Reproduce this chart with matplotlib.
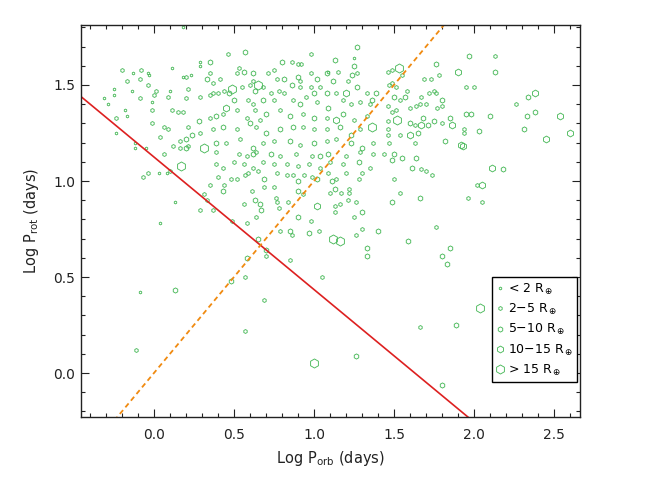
import numpy as np
import matplotlib
matplotlib.use('Agg')
import matplotlib.pyplot as plt
from matplotlib.lines import Line2D
from matplotlib.ticker import MultipleLocator

# (log P_orb, log P_rot) per planet-radius bin
pts_lt2 = [(0.18, 1.80), (-0.13, 1.56), (-0.04, 1.56), (-0.03, 1.55), (0.11, 1.59),
           (0.29, 1.62), (0.29, 1.60), (0.18, 1.54), (0.23, 1.55), (1.09, 1.57),
           (1.25, 1.64), (-0.25, 1.48), (-0.25, 1.45), (-0.14, 1.47), (-0.31, 1.43),
           (-0.29, 1.40), (-0.01, 1.41), (0.10, 1.47), (-0.18, 1.37), (-0.17, 1.34),
           (-0.24, 1.25), (-0.12, 1.20), (-0.12, 1.17), (-0.05, 1.17), (0.03, 1.04),
           (0.08, 1.04), (0.13, 0.89), (0.04, 0.78), (-0.09, 0.42)]

pts_2_5 = [(0.46, 1.66), (0.98, 1.66), (-0.20, 1.58), (-0.08, 1.58), (-0.17, 1.52),
           (-0.09, 1.53), (0.20, 1.54), (0.35, 1.56), (0.37, 1.51), (0.41, 1.53),
           (0.53, 1.59), (0.52, 1.56), (0.62, 1.52), (0.86, 1.62), (0.90, 1.61),
           (0.92, 1.61), (0.75, 1.58), (0.71, 1.56), (0.77, 1.53), (0.91, 1.52),
           (0.98, 1.56), (1.15, 1.57), (1.27, 1.56), (1.21, 1.52), (0.01, 1.47),
           (0.00, 1.45), (-0.04, 1.50), (-0.09, 1.43), (0.09, 1.44), (0.21, 1.48),
           (0.20, 1.43), (0.29, 1.44), (0.35, 1.45), (0.37, 1.46), (0.40, 1.46),
           (0.44, 1.47), (0.55, 1.49), (0.60, 1.50), (0.68, 1.49), (0.73, 1.46),
           (0.78, 1.47), (0.81, 1.46), (0.91, 1.49), (0.98, 1.49), (1.04, 1.49),
           (1.14, 1.46), (1.33, 1.46), (0.59, 1.42), (0.62, 1.40), (0.75, 1.42),
           (0.87, 1.42), (0.95, 1.44), (1.02, 1.41), (1.18, 1.42), (1.23, 1.40),
           (1.29, 1.41), (1.35, 1.40), (-0.24, 1.33), (-0.01, 1.37), (0.11, 1.37),
           (0.15, 1.36), (0.18, 1.36), (0.35, 1.33), (0.43, 1.35), (0.52, 1.37),
           (0.58, 1.33), (0.63, 1.37), (0.66, 1.32), (0.79, 1.37), (0.93, 1.35),
           (1.08, 1.33), (1.25, 1.32), (1.33, 1.34), (-0.01, 1.30), (0.06, 1.28),
           (0.09, 1.27), (0.21, 1.28), (0.29, 1.25), (0.37, 1.27), (0.52, 1.27),
           (0.64, 1.28), (0.93, 1.28), (1.00, 1.27), (1.08, 1.27), (1.29, 1.27),
           (0.04, 1.23), (0.16, 1.21), (0.45, 1.20), (0.54, 1.22), (0.68, 1.20),
           (0.75, 1.21), (0.91, 1.19), (1.08, 1.21), (1.14, 1.22), (1.37, 1.20),
           (0.06, 1.14), (0.12, 1.18), (0.16, 1.17), (0.21, 1.18), (0.39, 1.15),
           (0.53, 1.14), (0.58, 1.13), (0.64, 1.15), (0.79, 1.13), (0.89, 1.14),
           (0.99, 1.13), (1.20, 1.13), (1.29, 1.15), (1.37, 1.14), (0.39, 1.09),
           (0.43, 1.07), (0.50, 1.10), (0.56, 1.09), (0.62, 1.07), (0.68, 1.10),
           (0.75, 1.09), (0.83, 1.09), (0.90, 1.08), (0.97, 1.09), (1.04, 1.07),
           (1.10, 1.10), (1.18, 1.09), (1.35, 1.07),
           (1.46, 1.57), (1.49, 1.58), (1.55, 1.55), (1.49, 1.51), (1.47, 1.50),
           (1.51, 1.49), (1.58, 1.47), (1.54, 1.42), (1.46, 1.39), (1.51, 1.37),
           (1.49, 1.36), (1.60, 1.38), (1.64, 1.39), (1.66, 1.40), (1.70, 1.40),
           (1.67, 1.44), (1.72, 1.46), (1.75, 1.47), (1.76, 1.46), (1.80, 1.39),
           (1.77, 1.38), (1.69, 1.53), (1.73, 1.53), (1.78, 1.55), (2.13, 1.65),
           (1.95, 1.49), (2.00, 1.49), (2.26, 1.40), (1.80, 1.30), (1.63, 1.29),
           (1.46, 1.31), (1.46, 1.27), (1.46, 1.24), (1.54, 1.24), (1.63, 1.20),
           (1.47, 1.20), (1.94, 1.27), (1.94, 1.25), (1.44, 1.14), (1.67, 1.06),
           (-0.07, 1.02), (-0.04, 1.04), (0.10, 1.05), (0.29, 0.85), (0.31, 0.93),
           (0.33, 0.90), (0.37, 0.85), (0.35, 0.98), (0.44, 0.98), (0.49, 0.79),
           (0.40, 1.02), (0.48, 1.01), (0.52, 1.01), (0.57, 1.03), (0.59, 1.04),
           (0.61, 0.95), (0.56, 0.88), (0.58, 0.78), (0.64, 0.81), (0.70, 0.61),
           (0.57, 0.50), (0.69, 0.38), (0.69, 0.97), (0.75, 0.97), (0.76, 0.91),
           (0.78, 0.86), (0.77, 0.89), (0.79, 0.74), (0.84, 0.89), (0.86, 0.72),
           (0.93, 0.93), (0.98, 0.79), (1.03, 0.74), (0.85, 0.59), (1.05, 0.50),
           (1.10, 0.94), (1.14, 1.01), (1.17, 0.94), (1.22, 0.96), (1.22, 0.94),
           (1.21, 0.90), (1.26, 0.89), (1.13, 0.87), (1.13, 0.84), (1.16, 0.88),
           (1.25, 0.81), (1.30, 0.75), (1.26, 0.72), (1.30, 1.04), (1.28, 1.01),
           (1.20, 1.04), (0.83, 1.03), (0.87, 1.03), (0.94, 1.03), (0.99, 1.02),
           (1.09, 1.04), (0.65, 1.05), (0.77, 1.04),
           (1.54, 0.94), (1.50, 1.01), (1.74, 1.03), (1.70, 1.05), (1.76, 0.76),
           (1.96, 0.91), (2.02, 0.98), (2.05, 0.89),
           (0.57, 0.22), (-0.11, 0.12), (1.66, 0.24)]

pts_5_10 = [(0.57, 1.67), (1.27, 1.70), (0.35, 1.62), (0.33, 1.53), (0.56, 1.57),
            (0.62, 1.56), (0.80, 1.62), (0.81, 1.53), (0.90, 1.54), (1.02, 1.53),
            (1.08, 1.56), (1.13, 1.63), (1.12, 1.52), (1.25, 1.60), (1.24, 1.55),
            (0.47, 1.46), (0.63, 1.47), (0.86, 1.50), (1.00, 1.46), (1.08, 1.46),
            (1.27, 1.49), (1.39, 1.46), (1.36, 1.42), (0.50, 1.42), (0.68, 1.42),
            (0.91, 1.40), (1.09, 1.38), (0.28, 1.31), (0.39, 1.34), (0.70, 1.35),
            (0.85, 1.34), (1.00, 1.33), (1.18, 1.35), (0.24, 1.24), (0.20, 1.22),
            (0.43, 1.28), (0.60, 1.30), (0.70, 1.25), (0.79, 1.27), (0.87, 1.28),
            (1.16, 1.28), (1.23, 1.24), (0.20, 1.17), (0.39, 1.20), (0.62, 1.17),
            (0.85, 1.21), (1.00, 1.20), (1.23, 1.20), (1.30, 1.17), (0.62, 1.14),
            (0.73, 1.14), (1.04, 1.13), (1.09, 1.14), (1.28, 1.10),
            (1.57, 1.44), (1.50, 1.44), (1.80, 1.42), (1.76, 1.61), (1.97, 1.65),
            (2.13, 1.57), (2.34, 1.44), (2.38, 1.36), (2.33, 1.34), (2.31, 1.27),
            (2.10, 1.34), (1.98, 1.35), (1.95, 1.35), (1.85, 1.33), (1.75, 1.31),
            (1.71, 1.29), (1.68, 1.33), (1.60, 1.30), (1.65, 1.25), (1.82, 1.21),
            (2.03, 1.26), (1.64, 1.12), (1.55, 1.12), (1.50, 1.14), (1.49, 1.11),
            (1.61, 1.07), (2.18, 1.06),
            (0.13, 0.43), (0.43, 0.95), (0.63, 0.90), (0.66, 0.88), (0.67, 0.85),
            (0.65, 0.70), (0.70, 0.64), (0.58, 0.60), (0.48, 0.48), (0.85, 0.74),
            (0.90, 0.81), (0.90, 1.00), (0.90, 0.95), (0.97, 0.73), (1.02, 1.01),
            (1.11, 1.00), (1.13, 0.96), (1.30, 0.84), (1.33, 0.65), (1.33, 0.61),
            (1.40, 0.74), (0.69, 1.01),
            (1.49, 0.89), (1.66, 0.91), (1.59, 0.69), (1.80, 0.61), (1.83, 0.57),
            (1.85, 0.65), (1.26, 0.09), (1.89, 0.25), (1.80, -0.06)]

pts_10_15 = [(1.20, 1.46), (0.45, 1.38), (1.14, 1.32), (1.90, 1.57), (2.38, 1.46),
             (2.54, 1.34), (2.60, 1.25), (2.45, 1.22), (1.86, 1.29), (1.67, 1.29),
             (1.60, 1.24), (1.92, 1.19), (1.93, 1.18), (2.11, 1.07), (1.02, 0.87),
             (2.05, 0.98)]

pts_gt15 = [(0.49, 1.48), (0.65, 1.50), (1.36, 1.28), (0.31, 1.17), (0.17, 1.08),
            (1.53, 1.59), (1.52, 1.32), (1.12, 0.70), (1.16, 0.69), (1.00, 0.05),
            (2.04, 0.34)]

bins = [pts_lt2, pts_2_5, pts_5_10, pts_10_15, pts_gt15]
bin_labels = [r'< 2 R$_\oplus$', r'2$-$5 R$_\oplus$', r'5$-$10 R$_\oplus$',
              r'10$-$15 R$_\oplus$', r'> 15 R$_\oplus$']
marker_sizes = [2.0, 2.8, 3.7, 4.9, 6.5]

# lines
fit_intercept = 1.125
fit_slope = -0.69
xlim = (-0.456, 2.6625)
ylim = (-0.229, 1.8125)

green = '#4cba5c'

plt.rcParams['font.family'] = 'DejaVu Sans'
plt.rcParams['mathtext.fontset'] = 'dejavusans'

fig = plt.figure(figsize=(6.66, 4.91), dpi=100)
ax = fig.add_axes([0.1216, 0.1507, 0.7492, 0.7984])

handles = []
for pts, ms in zip(bins, marker_sizes):
    x, y = np.array(pts).T
    ax.plot(x, y, 'h', ls='none', mfc='none', mec=green, ms=ms, mew=0.65)
    handles.append(Line2D([], [], marker='h', ls='none', mfc='none', mec=green,
                          ms=ms, mew=0.65))

xx = np.array(xlim)
ax.plot(xx, fit_intercept + fit_slope * xx, color='#dd2020', lw=1.2)
ax.plot(xx, xx, color='#f08a10', lw=1.3, ls=(0, (2.8, 2.0)))

ax.set_xlim(xlim)
ax.set_ylim(ylim)
ax.xaxis.set_major_locator(MultipleLocator(0.5))
ax.xaxis.set_minor_locator(MultipleLocator(0.1))
ax.yaxis.set_major_locator(MultipleLocator(0.5))
ax.yaxis.set_minor_locator(MultipleLocator(0.1))
ax.tick_params(which='both', direction='in', top=True, right=True, width=0.8,
               labelsize=10, colors='#222222')
ax.tick_params(which='major', length=5.5)
ax.tick_params(which='minor', length=3)
ax.tick_params(axis='x', pad=8)
ax.tick_params(axis='y', pad=4)
for s in ax.spines.values():
    s.set_linewidth(1.0)
    s.set_color('#222222')

ax.set_xlabel(r'Log P$_{\mathrm{orb}}$ (days)', fontsize=10.5, labelpad=5,
              color='#222222')
ax.set_ylabel(r'Log P$_{\mathrm{rot}}$ (days)', fontsize=10.5, labelpad=9,
              color='#222222')

leg = ax.legend(handles, bin_labels, loc='upper left', bbox_to_anchor=(0.824, 0.357),
                borderaxespad=0, fancybox=False, framealpha=1, edgecolor='black',
                handlelength=0.5, handletextpad=0.4, labelspacing=0.42,
                borderpad=0.35, fontsize=9)
leg.get_frame().set_linewidth(1.0)

fig.savefig('out.png', dpi=100)
